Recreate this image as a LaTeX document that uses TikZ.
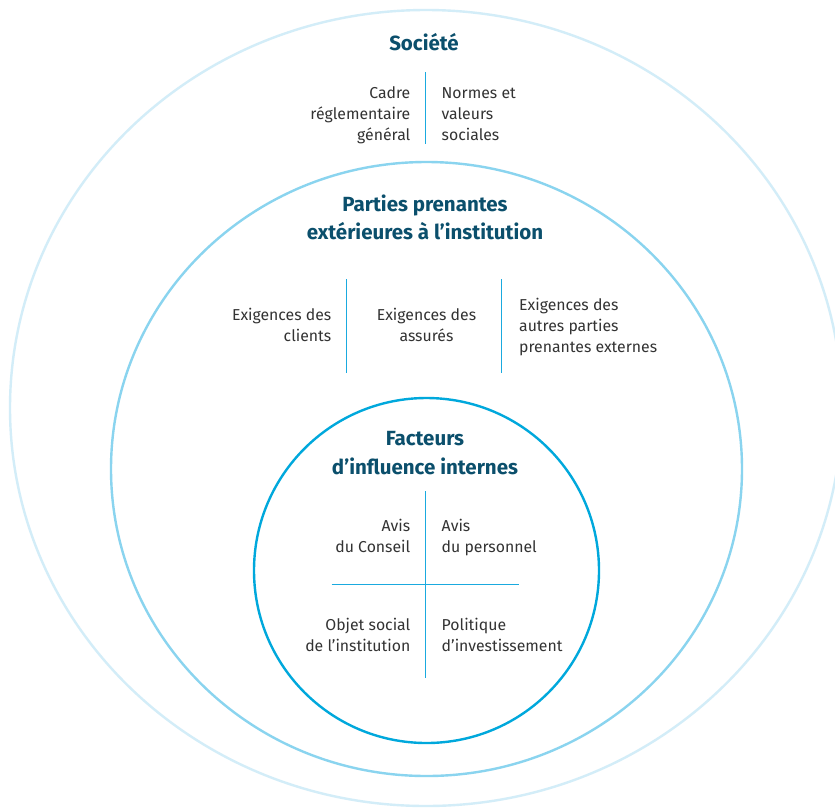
\documentclass[tikz,border=0pt]{standalone}
\usepackage{fontspec}
\setmainfont{Fira Sans}
\definecolor{ringout}{HTML}{D3EDF8}
\definecolor{ringmid}{HTML}{8AD4EF}
\definecolor{ringin}{HTML}{00A8DC}
\definecolor{sepc}{HTML}{1AAADF}
\definecolor{titlec}{HTML}{0B4F6C}
\definecolor{bodyc}{HTML}{333333}
\tikzset{
  titletxt/.style={inner sep=0pt, text=titlec, font=\fontsize{20.5}{28}\selectfont\bfseries, anchor=base},
  bodytxt/.style={inner sep=0pt, text=bodyc, font=\fontsize{15.8}{21}\selectfont},
  sepline/.style={draw=sepc, line width=1.4pt},
}
\begin{document}
\begin{tikzpicture}[x=1pt,y=-1pt]
\clip (0,0) rectangle (835,807);
\fill[white] (0,0) rectangle (835,807);
% rings
\draw[ringout, line width=2.4pt] (426,408) ellipse [x radius=416, y radius=398];
\draw[ringmid, line width=2.4pt] (426.5,469) ellipse [x radius=315.5, y radius=307];
\draw[ringin, line width=2.4pt] (426.5,570.5) circle [radius=172.5];
% Societe
\node[titletxt] (soc) at (424,50) {Société};
\coordinate (s1a) at (425.7,72);
\coordinate (s1b) at (425.7,144);
\draw[sepline] (s1a) -- (s1b);
\node[bodytxt, anchor=base east] (cadre) at (410.5,98.5) {\begin{tabular}[t]{@{}r@{}}Cadre\\réglementaire\\général\end{tabular}};
\node[bodytxt, anchor=base west] (normes) at (441.5,98.5) {\begin{tabular}[t]{@{}l@{}}Normes et\\valeurs\\sociales\end{tabular}};
% Parties prenantes
\node[titletxt] (pp) at (425,211.5) {\begin{tabular}[t]{@{}c@{}}Parties prenantes\\extérieures à l’institution\end{tabular}};
\coordinate (p1a) at (346.7,279);
\coordinate (p1b) at (346.7,373);
\coordinate (p2a) at (501.7,279);
\coordinate (p2b) at (501.7,373);
\draw[sepline] (p1a) -- (p1b);
\draw[sepline] (p2a) -- (p2b);
\node[bodytxt, anchor=base east] (clients) at (331.5,320) {\begin{tabular}[t]{@{}r@{}}Exigences des\\clients\end{tabular}};
\node[bodytxt, anchor=base] (assures) at (426.5,320) {\begin{tabular}[t]{@{}c@{}}Exigences des\\assurés\end{tabular}};
\node[bodytxt, anchor=base west] (autres) at (519,310) {\begin{tabular}[t]{@{}l@{}}Exigences des\\autres parties\\prenantes externes\end{tabular}};
% Facteurs internes
\node[titletxt] (fi) at (425,445) {\begin{tabular}[t]{@{}c@{}}Facteurs\\[1.5pt]d’influence internes\end{tabular}};
\coordinate (i1a) at (425.7,491);
\coordinate (i1b) at (425.7,677.5);
\coordinate (i2a) at (331.7,584.3);
\coordinate (i2b) at (519,584.3);
\draw[sepline] (i1a) -- (i1b);
\draw[sepline] (i2a) -- (i2b);
\node[bodytxt, anchor=base east] (conseil) at (410.5,531.7) {\begin{tabular}[t]{@{}r@{}}Avis\\du Conseil\end{tabular}};
\node[bodytxt, anchor=base west] (personnel) at (441.5,531.7) {\begin{tabular}[t]{@{}l@{}}Avis\\du personnel\end{tabular}};
\node[bodytxt, anchor=base east] (objet) at (410.5,630) {\begin{tabular}[t]{@{}r@{}}Objet social\\de l’institution\end{tabular}};
\node[bodytxt, anchor=base west] (politique) at (441.5,630) {\begin{tabular}[t]{@{}l@{}}Politique\\d’investissement\end{tabular}};
\end{tikzpicture}
\end{document}
